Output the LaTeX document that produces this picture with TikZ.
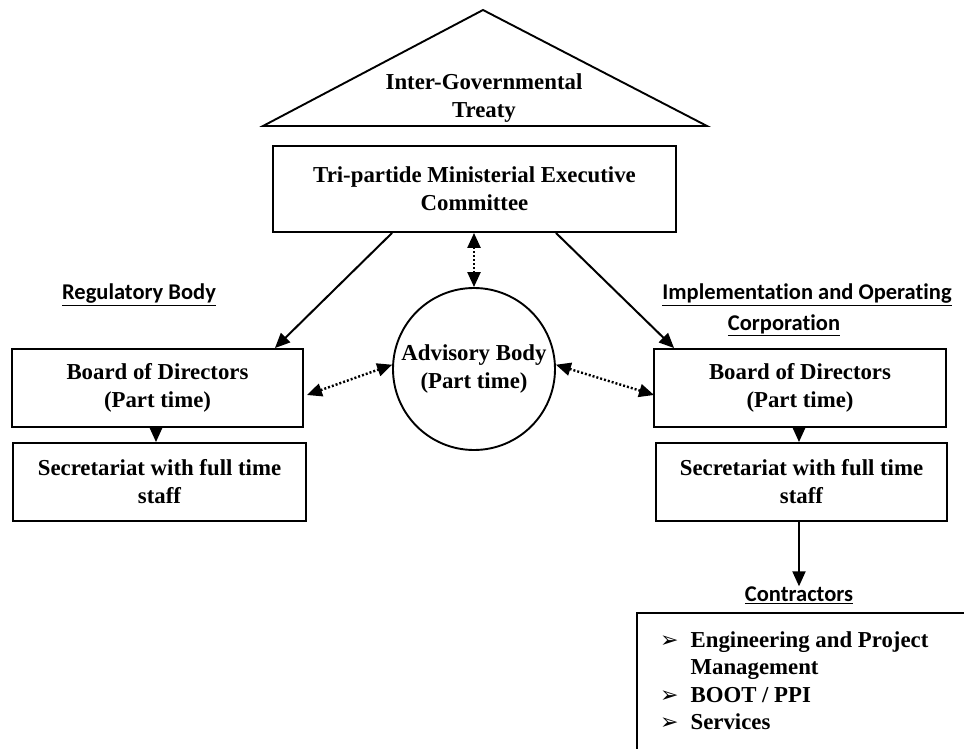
\documentclass[tikz,border=0pt]{standalone}
\usepackage{fontspec}
\setmainfont{Liberation Serif}
\newfontfamily\calfont[RawFeature=-liga]{Carlito}
\newfontfamily\symfont{DejaVu Sans}
\usetikzlibrary{arrows.meta,calc}
\begin{document}
\begin{tikzpicture}[x=1pt,y=-1pt,
  txt/.style={align=center,inner sep=0pt,font=\fontsize{22.8}{28}\selectfont\bfseries},
  box/.style={txt,draw,line width=1.9pt},
  lbl/.style={align=center,inner sep=0pt,font=\fontsize{22.5}{30}\selectfont\calfont\bfseries},
  conn/.style={line width=2pt,-{Triangle[length=15pt,width=13pt]}},
  dconn/.style={line width=2.4pt,dash pattern=on 2pt off 2pt,{Triangle[length=15pt,width=13pt]}-{Triangle[length=15pt,width=13pt]}}
]
\useasboundingbox (0,0) rectangle (964,749);
\clip (0,0) rectangle (964,749);
% treaty triangle
\draw[line width=1.9pt,line join=miter] (263,126) -- (483,10) -- (707,126) -- cycle;
\node[txt] (treaty) at (484,98) {Inter-Governmental\\Treaty};
% top committee
\node[box,minimum width=403pt,minimum height=86pt] (top) at (474.5,189) {Tri-partide Ministerial Executive\\Committee};
% advisory circle
\node[txt,draw,circle,line width=1.9pt,minimum size=162pt] (adv) at (474,369) {Advisory Body\\(Part time)};
% labels
\node[lbl] (reg) at (139,295) {\underline{Regulatory Body}};
\node[lbl] (imp) at (807,295) {\underline{Implementation and Operating}};
\node[lbl] (corp) at (784,325) {\underline{Corporation}};
% boards
\node[box,minimum width=291pt,minimum height=78pt] (lb) at (157.5,388) {Board of Directors\\(Part time)};
\node[box,minimum width=292pt,minimum height=78pt] (rb) at (800,388) {Board of Directors\\(Part time)};
% secretariats
\node[box,minimum width=293pt,minimum height=78pt] (ls) at (159.5,482) {Secretariat with full time\\staff};
\node[box,minimum width=291pt,minimum height=78pt] (rs) at (801.5,482) {Secretariat with full time\\staff};
% contractors
\node[lbl] (con) at (799,595) {\underline{Contractors}};
\draw[line width=1.9pt] (637,613) rectangle (990,780);
\node[anchor=north west,inner sep=0pt,font=\fontsize{22.8}{27.5}\selectfont\bfseries] (list) at (660,628)
  {\begin{tabular}{@{}l@{\hspace{12pt}}l@{}}
   {\symfont\fontsize{22}{27.5}\selectfont ➢} & Engineering and Project\\
   & Management\\
   {\symfont\fontsize{22}{27.5}\selectfont ➢} & BOOT / PPI\\
   {\symfont\fontsize{22}{27.5}\selectfont ➢} & Services
   \end{tabular}};
% connectors
\draw[conn] ($(top.south west)+(120,0)$) -- ($(lb.north east)+(-29,0)$);
\draw[conn] ($(top.south east)+(-121,0)$) -- ($(rb.north west)+(21,0)$);
\draw[dconn] (adv.north |- top.south) -- (adv.north);
\draw[dconn] ($(lb.east)+(3,7)$) -- (adv.177);
\draw[dconn] (adv.3) -- ($(rb.west)+(1,7)$);
\draw[conn] (lb.south -| 156,0) -- (ls.north -| 156,0);
\draw[conn] (rb.south -| 799,0) -- (rs.north -| 799,0);
\draw[conn] (rs.south -| 799,0) -- (con.north);
\end{tikzpicture}
\end{document}
